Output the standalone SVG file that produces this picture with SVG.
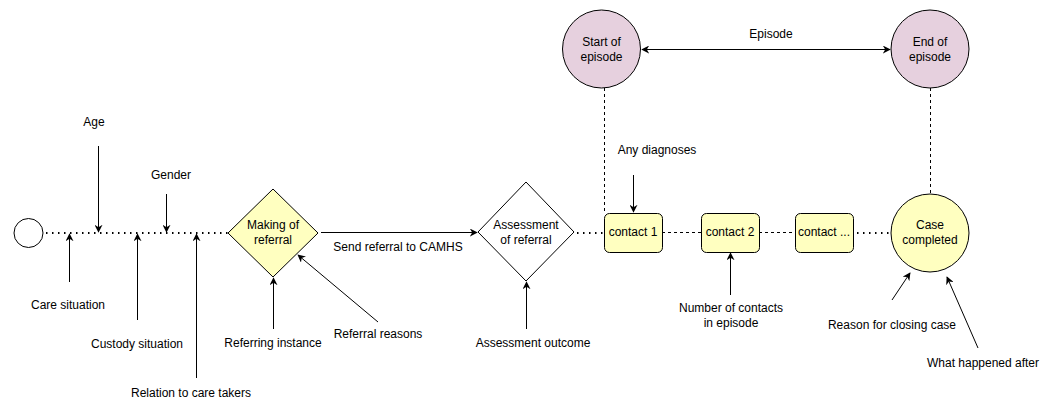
<svg xmlns="http://www.w3.org/2000/svg" width="1052" height="402" viewBox="0 0 1052 402">
<defs>
<marker id="ah" viewBox="0 0 10 10" refX="9" refY="5" markerWidth="8" markerHeight="8" markerUnits="userSpaceOnUse" orient="auto-start-reverse">
<path d="M0,0 L10,5 L0,10 L3,5 Z" fill="#000"/>
</marker>
</defs>
<style>
text{font-family:"Liberation Sans",Arial,sans-serif;font-size:12px;fill:#000;text-anchor:middle}
.n{stroke:#000;stroke-width:1}
.y{fill:#ffffc0}
.p{fill:#e6d0de}
.w{fill:#fff}
.a{stroke:#000;stroke-width:1;fill:none;marker-end:url(#ah)}
.dot{stroke:#000;stroke-width:2;fill:none;stroke-dasharray:1.5 4.5}
.dash{stroke:#000;stroke-width:1;fill:none;stroke-dasharray:3 3}
</style>
<rect width="1052" height="402" fill="#fff"/>
<g id="connectors">
<line class="dot" x1="46" y1="233" x2="228" y2="233"/>
<line class="a" x1="321" y1="232.5" x2="477" y2="232.5"/>
<line class="dot" x1="577" y1="233" x2="604" y2="233"/>
<line class="dash" x1="662" y1="232.5" x2="701" y2="232.5"/>
<line class="dash" x1="759" y1="232.5" x2="795" y2="232.5"/>
<line class="dot" x1="857" y1="233" x2="891" y2="233"/>
<line class="dash" x1="604.5" y1="88" x2="604.5" y2="213"/>
<line class="dash" x1="930.5" y1="88" x2="930.5" y2="194"/>
<line class="a" x1="642" y1="49.5" x2="890" y2="49.5" style="marker-start:url(#ah)"/>
<line class="a" x1="98.5" y1="146" x2="98.5" y2="232"/>
<line class="a" x1="166.5" y1="194" x2="166.5" y2="232"/>
<line class="a" x1="69.5" y1="282" x2="69.5" y2="234"/>
<line class="a" x1="137.5" y1="320" x2="137.5" y2="234"/>
<line class="a" x1="196.5" y1="378" x2="196.5" y2="234"/>
<line class="a" x1="273.5" y1="329" x2="273.5" y2="278"/>
<line class="a" x1="378" y1="322" x2="298" y2="255"/>
<line class="a" x1="526.5" y1="329" x2="526.5" y2="282"/>
<line class="a" x1="633.5" y1="175" x2="633.5" y2="212"/>
<line class="a" x1="730.5" y1="295" x2="730.5" y2="253"/>
<line class="a" x1="892" y1="300" x2="910" y2="273"/>
<line class="a" x1="978" y1="348" x2="947" y2="277"/>
<text x="398" y="251">Send referral to CAMHS</text>
<text x="771" y="38">Episode</text>
</g>
<g id="start"><circle class="n w" cx="28.5" cy="233" r="14.5"/></g>
<g id="making-referral">
<polygon class="n y" points="273,189 318,233 273,277 228,233"/>
<text x="273" y="229">Making of</text>
<text x="273" y="244">referral</text>
</g>
<g id="assessment">
<polygon class="n w" points="526,182 574,232 526,281 478,232"/>
<text x="526" y="229">Assessment</text>
<text x="526" y="244">of referral</text>
</g>
<g id="contact1"><rect class="n y" x="604.5" y="213.5" width="58" height="39" rx="5"/><text x="633" y="236">contact 1</text></g>
<g id="contact2"><rect class="n y" x="701.5" y="213.5" width="58" height="39" rx="5"/><text x="730" y="236">contact 2</text></g>
<g id="contact3"><rect class="n y" x="795.5" y="213.5" width="58" height="39" rx="5"/><text x="824" y="236">contact ...</text></g>
<g id="case-completed"><circle class="n y" cx="930" cy="233" r="39"/><text x="930" y="229">Case</text><text x="930" y="244">completed</text></g>
<g id="start-episode"><circle class="n p" cx="601.5" cy="49" r="39"/><text x="601.5" y="46">Start of</text><text x="601.5" y="61">episode</text></g>
<g id="end-episode"><circle class="n p" cx="930" cy="49" r="39"/><text x="930" y="46">End of</text><text x="930" y="61">episode</text></g>
<g id="labels">
<text x="94" y="126">Age</text>
<text x="171" y="179">Gender</text>
<text x="68" y="309">Care situation</text>
<text x="137" y="348">Custody situation</text>
<text x="191" y="397">Relation to care takers</text>
<text x="273" y="347">Referring instance</text>
<text x="378" y="338">Referral reasons</text>
<text x="533" y="347">Assessment outcome</text>
<text x="657" y="154">Any diagnoses</text>
<text x="731" y="312">Number of contacts</text>
<text x="731" y="327">in episode</text>
<text x="892" y="329">Reason for closing case</text>
<text x="983" y="367">What happened after</text>
</g>
</svg>
